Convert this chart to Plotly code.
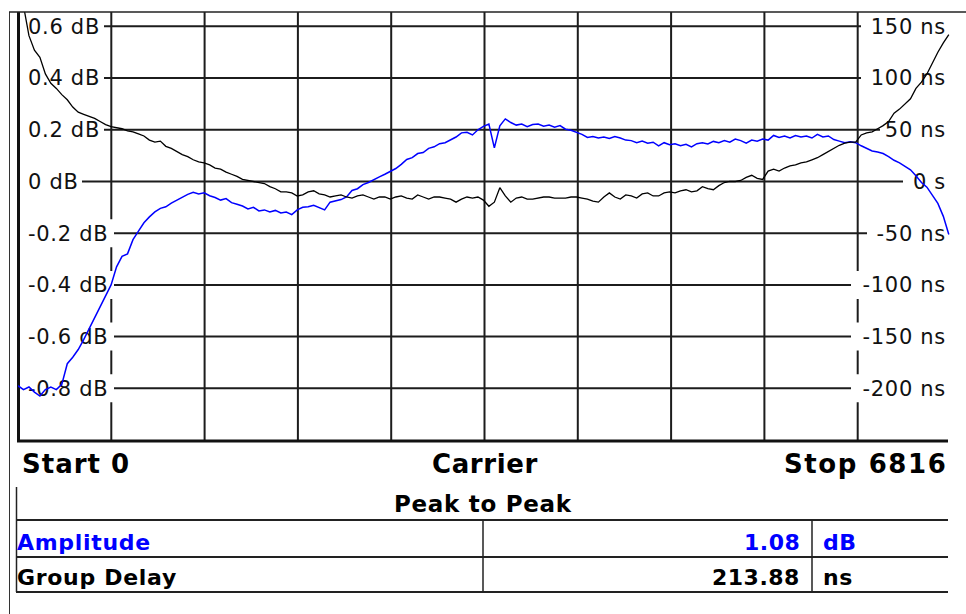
import plotly.graph_objects as go

# ---------------- data ----------------
x_start, x_stop = 0, 6816
freq = list(range(0, 6801, 40))  # sweep points (171)

amplitude_db = [
    -0.790, -0.805, -0.795, -0.815, -0.830, -0.805, -0.795, -0.805, -0.785, -0.705,
    -0.680, -0.650, -0.612, -0.570, -0.525, -0.482, -0.440, -0.400, -0.330, -0.290,
    -0.280, -0.225, -0.192, -0.160, -0.137, -0.118, -0.104, -0.098, -0.084, -0.072,
    -0.062, -0.050, -0.042, -0.048, -0.044, -0.055, -0.062, -0.072, -0.066, -0.082,
    -0.088, -0.095, -0.106, -0.100, -0.114, -0.110, -0.118, -0.112, -0.122, -0.118,
    -0.128, -0.110, -0.100, -0.098, -0.092, -0.100, -0.110, -0.080, -0.076, -0.070,
    -0.060, -0.035, -0.028, -0.012, -0.004, 0.008, 0.018, 0.028, 0.040, 0.050,
    0.066, 0.085, 0.092, 0.108, 0.112, 0.128, 0.134, 0.146, 0.150, 0.162,
    0.172, 0.188, 0.190, 0.180, 0.200, 0.213, 0.222, 0.130, 0.215, 0.242,
    0.228, 0.218, 0.222, 0.212, 0.220, 0.222, 0.214, 0.218, 0.210, 0.216,
    0.202, 0.198, 0.190, 0.182, 0.170, 0.174, 0.168, 0.172, 0.166, 0.174,
    0.168, 0.160, 0.158, 0.150, 0.156, 0.148, 0.152, 0.138, 0.150, 0.142,
    0.146, 0.138, 0.144, 0.134, 0.146, 0.150, 0.145, 0.155, 0.150, 0.158,
    0.152, 0.164, 0.158, 0.148, 0.160, 0.156, 0.164, 0.160, 0.178, 0.170,
    0.176, 0.168, 0.178, 0.172, 0.176, 0.168, 0.182, 0.172, 0.176, 0.162,
    0.156, 0.150, 0.154, 0.150, 0.138, 0.128, 0.118, 0.114, 0.108, 0.096,
    0.082, 0.072, 0.060, 0.045, 0.022, -0.004, -0.022, -0.055, -0.085, -0.135,
    -0.205,
]

group_delay_ns = [
    205, 170, 141, 127, 120, 104, 95, 90, 84, 79,
    72, 67, 65, 63, 61, 58, 55, 53, 52, 51,
    49, 48, 46, 44, 40, 38, 39, 34, 32, 29,
    26, 24, 21, 19, 18, 16, 13, 12, 9, 7,
    5, 2, 1, 0, -1, -2, -5, -7, -10, -10,
    -11, -14, -13, -10, -9, -12, -13, -15, -14, -13,
    -15, -16, -14, -13, -15, -17, -15, -15, -17, -15,
    -14, -16, -17, -13, -15, -17, -15, -15, -16, -17,
    -20, -17, -15, -16, -15, -18, -24, -20, -6, -14,
    -20, -16, -15, -17, -17, -16, -15, -15, -16, -16,
    -16, -15, -15, -16, -17, -19, -20, -15, -11, -15,
    -17, -13, -14, -16, -12, -11, -14, -14, -11, -10,
    -11, -9, -8, -10, -9, -5, -7, -8, -4, -1,
    0, 0, 1, 4, 6, 3, 2, 10, 12, 10,
    13, 15, 16, 18, 19, 21, 23, 26, 29, 32,
    35, 37, 38, 38, 45, 47, 48, 51, 54, 58,
    66, 70, 75, 80, 90, 96, 104, 115, 125, 134,
    142,
]

db_ticks = [0.6, 0.4, 0.2, 0, -0.2, -0.4, -0.6, -0.8]
db_labels = ["0.6 dB", "0.4 dB", "0.2 dB", "0 dB", "-0.2 dB", "-0.4 dB", "-0.6 dB", "-0.8 dB"]
ns_ticks = [150, 100, 50, 0, -50, -100, -150, -200]
ns_labels = ["150 ns", "100 ns", "50 ns", "0 s", "-50 ns", "-100 ns", "-150 ns", "-200 ns"]
x_divisions = 10

footer_labels = ["Start 0", "Carrier", "Stop 6816"]
table_title = "Peak to Peak"
table_rows = ["Amplitude", "Group Delay"]
table_values = ["1.08", "213.88"]
table_units = ["dB", "ns"]

# ---------------- layout helpers ----------------
W, H = 966, 614
PL, PR, PT, PB = 18, 951, 12, 440
BLUE = "#0000ff"
GRID = "#1c1c1c"
FONT = "DejaVu Sans"


def fx(p):
    return (p - PL) / (PR - PL)


def fy(p):
    return (PB - p) / (PB - PT)


def spaced(t, ls):
    return '<span style="letter-spacing:%spx">%s</span>' % (ls, t)


fig = go.Figure()
fig.add_trace(go.Scatter(x=freq, y=amplitude_db, mode="lines",
                         line=dict(color=BLUE, width=1.5), yaxis="y",
                         name="Amplitude", showlegend=False))
fig.add_trace(go.Scatter(x=freq, y=group_delay_ns, mode="lines",
                         line=dict(color="#000000", width=1.3), yaxis="y2",
                         name="Group Delay", showlegend=False))

shapes = []
grid = dict(color=GRID, width=2)
for i in range(1, x_divisions):
    xv = x_stop * i / x_divisions
    shapes.append(dict(type="line", xref="x", yref="paper", x0=xv, x1=xv,
                       y0=0, y1=1, line=grid, layer="below"))
for v in db_ticks:
    shapes.append(dict(type="line", xref="paper", yref="y", x0=0, x1=1,
                       y0=v, y1=v, line=grid, layer="below"))

# white label backgrounds (cover grid lines behind tick labels)
left_box_end = [104, 104, 104, 82, 114, 114, 114, 114]
right_box_start = [861, 861, 880, 903, 867, 851, 851, 851]
hh = 14 / 258.57
for v, e in zip(db_ticks, left_box_end):
    shapes.append(dict(type="rect", xref="paper", yref="y", x0=fx(20), x1=fx(e),
                       y0=v - hh, y1=v + hh, fillcolor="white",
                       line=dict(width=0), layer="below"))
for v, s in zip(db_ticks, right_box_start):
    shapes.append(dict(type="rect", xref="paper", yref="y", x0=fx(s), x1=fx(960),
                       y0=v - hh, y1=v + hh, fillcolor="white",
                       line=dict(width=0), layer="below"))

# plot borders
shapes.append(dict(type="line", xref="paper", yref="paper", x0=fx(18.5), x1=fx(18.5),
                   y0=fy(441), y1=1, line=dict(color="#111", width=3), layer="below"))
shapes.append(dict(type="line", xref="paper", yref="paper", x0=fx(17), x1=fx(948),
                   y0=fy(441), y1=fy(441), line=dict(color="#111", width=3), layer="below"))
# outer frame
shapes.append(dict(type="line", xref="paper", yref="paper", x0=fx(9.5), x1=fx(9.5),
                   y0=fy(12), y1=fy(620), line=dict(color="#333", width=1)))
shapes.append(dict(type="line", xref="paper", yref="paper", x0=fx(9), x1=fx(970),
                   y0=fy(12), y1=fy(12), line=dict(color="#222", width=1.5)))
# table
for yy in [520, 557, 592]:
    shapes.append(dict(type="line", xref="paper", yref="paper", x0=fx(16), x1=fx(948),
                       y0=fy(yy), y1=fy(yy), line=dict(color="#222", width=2)))
for xx in [483, 812]:
    shapes.append(dict(type="line", xref="paper", yref="paper", x0=fx(xx), x1=fx(xx),
                       y0=fy(520), y1=fy(592), line=dict(color="#222", width=1.5)))
shapes.append(dict(type="line", xref="paper", yref="paper", x0=fx(16.5), x1=fx(16.5),
                   y0=fy(487), y1=fy(592), line=dict(color="#222", width=1.5)))

annotations = []


def ann(text, xp, yp, anchor, size, ls, color="#000", weight="bold"):
    annotations.append(dict(text=spaced(text, ls), xref="paper", yref="paper",
                            x=fx(xp), y=fy(yp),
                            xanchor=anchor, yanchor="middle", showarrow=False,
                            font=dict(family=FONT, size=size, color=color, weight=weight)))


ann(footer_labels[0], 20, 464, "left", 26, 1.0)
ann(footer_labels[1], 485, 464, "center", 26, 0.6)
ann(footer_labels[2], 949, 464, "right", 26, 1.6)
ann(table_title, 483, 504, "center", 23, 0.7)
row_y = [542, 577]
row_col = [BLUE, "#000"]
for lab, val, unit, ry, c in zip(table_rows, table_values, table_units, row_y, row_col):
    ann(lab, 15, ry, "left", 22, 0.7, c)
    ann(val, 802, ry, "right", 22, 0.5, c)
    ann(unit, 821, ry, "left", 22, 0.5, c)

tickfont = dict(family=FONT, size=21, color="#111")
fig.update_layout(
    width=W, height=H,
    margin=dict(l=PL, r=W - PR, t=PT, b=H - PB, pad=0),
    paper_bgcolor="white", plot_bgcolor="white",
    showlegend=False, hovermode=False,
    xaxis=dict(range=[x_start, x_stop], showgrid=False, zeroline=False,
               showline=False, showticklabels=False, ticks="", fixedrange=True),
    yaxis=dict(range=[-1.0, 0.6555], tickvals=db_ticks,
               ticktext=[spaced(t, 0.7) for t in db_labels],
               ticklabelposition="inside", ticks="", ticklabelstandoff=7,
               showgrid=False, zeroline=False, showline=False,
               tickfont=tickfont, layer="below traces", fixedrange=True),
    yaxis2=dict(range=[-250, 163.9], overlaying="y", side="right",
                tickvals=ns_ticks, ticktext=[spaced(t, 0.7) for t in ns_labels],
                ticklabelposition="inside", ticks="", ticklabelstandoff=2,
                showgrid=False, zeroline=False, showline=False,
                tickfont=tickfont, layer="below traces", fixedrange=True),
    shapes=shapes,
    annotations=annotations,
)

fig.write_html("out.html")
